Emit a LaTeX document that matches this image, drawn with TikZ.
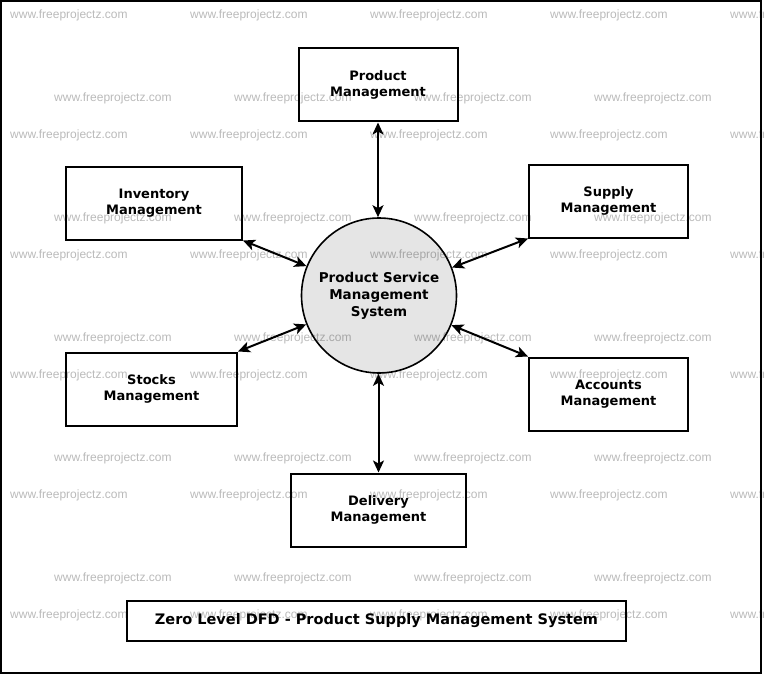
\documentclass[tikz,border=0pt]{standalone}
\usepackage{fontspec}
\setmainfont{DejaVu Sans}
\newfontfamily\wmfont{Liberation Sans}
\usetikzlibrary{arrows.meta}
\tikzset{
  ent/.style={draw=black, line width=2pt, fill=white, minimum height=73pt, align=center,
    font=\bfseries\fontsize{13}{16}\selectfont, inner sep=2pt},
  proc/.style={draw=black, line width=1.6pt, circle, fill=black!10, minimum size=155pt, align=center,
    font=\bfseries\fontsize{13.5}{17}\selectfont, inner sep=0pt},
  flow/.style={line width=2pt, {Stealth[length=12pt,width=11pt,inset=3pt]}-{Stealth[length=12pt,width=11pt,inset=3pt]}},
  wm/.style={anchor=west, text=black, text opacity=0.27, font=\wmfont\fontsize{12}{12}\selectfont, inner sep=0pt},
  titlebox/.style={draw=black, line width=2pt, minimum width=499pt, minimum height=40pt,
    font=\bfseries\fontsize{14.5}{17}\selectfont}
}
\begin{document}
\begin{tikzpicture}[x=1pt,y=-1pt]
\useasboundingbox (0,0) rectangle (764,677);
\fill[white] (0,0) rectangle (764,677);
\draw[line width=2pt] (1,1) rectangle (761,673);

\node[proc] (sys) at (379,295.5) {Product Service\\Management\\System};
\node[ent, minimum width=159pt] (prod) at (378,85) {Product\\Management};
\node[ent, minimum width=176pt] (inv) at (154,203) {Inventory\\Management};
\node[ent, minimum width=159pt] (sup) at (608.5,201) {Supply\\Management};
\node[ent, minimum width=171pt] (sto) at (151.5,389) {Stocks\\Management};
\node[ent, minimum width=159pt] (acc) at (608.5,394) {Accounts\\Management};
\node[ent, minimum width=175pt] (del) at (378.5,510) {Delivery\\Management};
\node[titlebox] (title) at (376.5,621) {Zero Level DFD - Product Supply Management System};

\draw[flow] (prod.south) -- (prod.south |- sys.north);
\draw[flow] (del.north) -- (del.north |- sys.south);
\draw[flow] (inv.south east) -- (sys);
\draw[flow] (sup.south west) -- (sys);
\draw[flow] (sto.north east) -- (sys);
\draw[flow] (acc.north west) -- (sys);

\begin{scope}
\clip (0,0) rectangle (764,677);
\foreach \yy in {15,135,255,375,495,615}{
  \foreach \xx in {10,190,370,550,730}{
    \node[wm] at (\xx,\yy) {www.freeprojectz.com};
  }
}
\foreach \yy in {98,218,338,458,578}{
  \foreach \xx in {54,234,414,594}{
    \node[wm] at (\xx,\yy) {www.freeprojectz.com};
  }
}
\end{scope}
\end{tikzpicture}
\end{document}
